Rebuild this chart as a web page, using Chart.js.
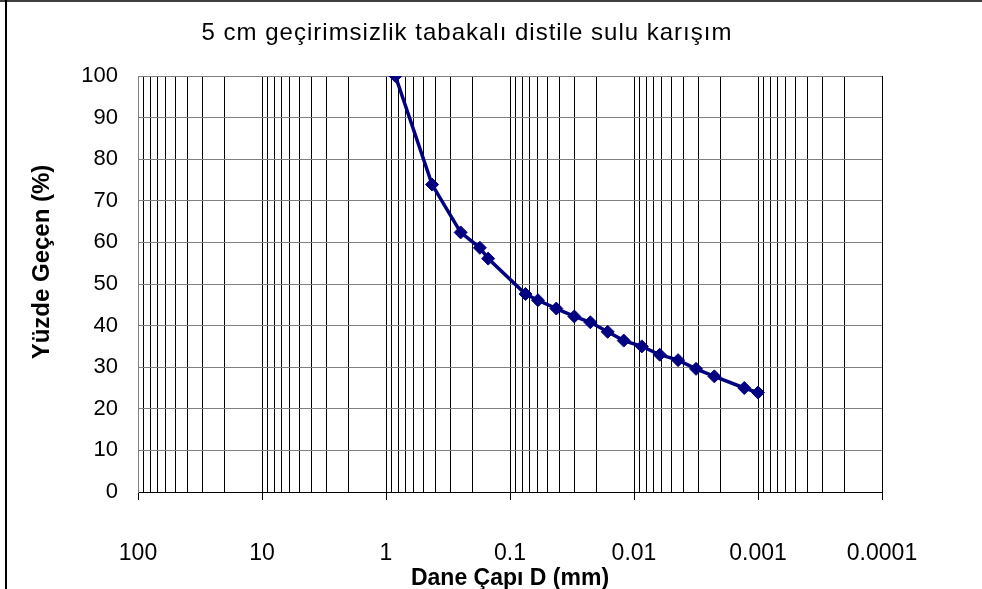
<!DOCTYPE html>
<html>
<head>
<meta charset="utf-8">
<script src="https://cdn.jsdelivr.net/npm/chart.js@4/dist/chart.umd.min.js"></script>
<style>
  html, body { margin: 0; padding: 0; background: #fff; }
  canvas { display: block; }
</style>
</head>
<body>
<canvas id="gradation" width="982" height="589"></canvas>
<script>
// grain size (mm) and percent passing
const diameters = [0.84, 0.425, 0.25, 0.175, 0.15, 0.075, 0.0595, 0.0423, 0.0303, 0.0225,
  0.0163, 0.0121, 0.00865, 0.0062, 0.00441, 0.00316, 0.00225, 0.00129, 0.001];
const passing = [100, 73.9, 62.4, 58.7, 56.1, 47.6, 46.1, 44.1, 42.2, 40.8,
  38.5, 36.4, 35.0, 33.0, 31.7, 29.6, 27.8, 25.0, 23.9];

const decades = [100, 10, 1, 0.1, 0.01, 0.001, 0.0001];
const decadeLabels = ['100', '10', '1', '0.1', '0.01', '0.001', '0.0001'];

const chartTitle = '5 cm geçirimsizlik tabakalı distile sulu karışım';
const xTitle = 'Dane Çapı D (mm)';
const yTitle = 'Yüzde Geçen (%)';

const FONT = "'Liberation Sans', Arial, sans-serif";
const NAVY = '#000080';

function isDecade(v) {
  return decades.some(d => Math.abs(v - d) / d < 1e-6);
}

function decadeLabel(v) {
  const i = decades.findIndex(d => Math.abs(v - d) / d < 1e-6);
  return i >= 0 ? decadeLabels[i] : '';
}

// major lines at each decade, minor lines at 2..9 inside each decade
function logGridValues() {
  const vals = [];
  decades.forEach(d => {
    vals.push(d);
    if (d < 100) {
      for (let m = 2; m <= 9; m++) vals.push(d * m);
    }
  });
  return vals;
}

// title, rotated y title and the outer frame
const extraText = {
  id: 'extraText',
  afterDraw(chart) {
    const ctx = chart.ctx;
    ctx.save();
    ctx.strokeStyle = '#404040';
    ctx.lineWidth = 2;
    ctx.beginPath();
    ctx.moveTo(0, 1);
    ctx.lineTo(982, 1);
    ctx.stroke();
    ctx.strokeStyle = '#000';
    ctx.beginPath();
    ctx.moveTo(6, 0);
    ctx.lineTo(6, 589);
    ctx.stroke();

    ctx.fillStyle = '#000';
    ctx.textAlign = 'center';
    ctx.textBaseline = 'middle';
    ctx.font = '24px ' + FONT;
    ctx.letterSpacing = '1px';
    ctx.fillText(chartTitle, 467, 33);
    ctx.letterSpacing = '0px';

    ctx.font = 'bold 24px ' + FONT;
    ctx.translate(42, 262);
    ctx.rotate(-Math.PI / 2);
    ctx.fillText(yTitle, 0, 0);
    ctx.restore();
  }
};

new Chart(document.getElementById('gradation').getContext('2d'), {
  type: 'scatter',
  data: {
    datasets: [{
      data: diameters.map((d, i) => ({ x: d, y: passing[i] })),
      showLine: true,
      borderColor: NAVY,
      backgroundColor: NAVY,
      borderWidth: 3.5,
      pointStyle: 'rectRot',
      pointRadius: 6.5,
      pointBorderWidth: 1,
      tension: 0
    }]
  },
  options: {
    responsive: false,
    animation: false,
    layout: { padding: { top: 76, right: 100, bottom: 0, left: 0 } },
    plugins: {
      legend: { display: false },
      tooltip: { enabled: false }
    },
    scales: {
      x: {
        type: 'logarithmic',
        position: 'bottom',
        reverse: true,
        min: 0.0001,
        max: 100,
        afterBuildTicks: scale => {
          scale.ticks = logGridValues().map(v => ({ value: v }));
        },
        afterFit: scale => { scale.height = 97; },
        border: { color: '#000', width: 1 },
        grid: {
          color: '#000',
          lineWidth: 1,
          tickLength: 8,
          tickColor: ctx => (ctx.tick && isDecade(ctx.tick.value) ? '#000' : 'rgba(0,0,0,0)')
        },
        ticks: {
          autoSkip: false,
          maxRotation: 0,
          padding: 40,
          color: '#000',
          font: { family: FONT, size: 23 },
          callback: v => decadeLabel(v)
        },
        title: {
          display: true,
          text: xTitle,
          color: '#000',
          font: { family: FONT, size: 23, weight: 'bold' },
          padding: { top: 0, bottom: -3 }
        }
      },
      y: {
        min: 0,
        max: 100,
        afterFit: scale => { scale.width = 138; },
        border: { color: '#808080', width: 1 },
        grid: { color: '#808080', lineWidth: 1, drawTicks: false },
        ticks: {
          stepSize: 10,
          padding: 20,
          color: '#000',
          font: { family: FONT, size: 22 }
        }
      }
    }
  },
  plugins: [extraText]
});
</script>
</body>
</html>
